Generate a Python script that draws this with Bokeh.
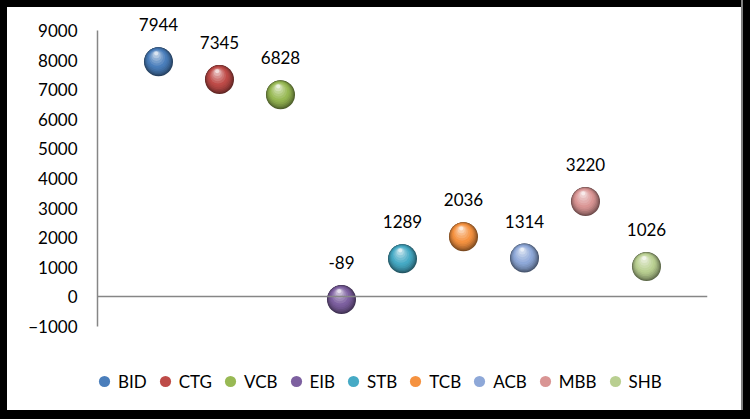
from bokeh.plotting import figure
from bokeh.models import ColumnDataSource, Legend, LegendItem, FixedTicker
from bokeh.core.properties import value
from bokeh.embed import file_html
from bokeh.resources import INLINE

# ---- data ----
banks = ["BID", "CTG", "VCB", "EIB", "STB", "TCB", "ACB", "MBB", "SHB"]
values = [7944, 7345, 6828, -89, 1289, 2036, 1314, 3220, 1026]
colors = ["#4A7EBB", "#BE4B48", "#98B954", "#7D60A0", "#46AAC5", "#F59240",
          "#8EA8D8", "#D99594", "#B9CF91"]
y_ticks = [-1000, 0, 1000, 2000, 3000, 4000, 5000, 6000, 7000, 8000, 9000]

# ---- layout ----
W, H = 734, 403
BORDER = 7  # black frame on the left / top (css border, counted in bokeh's layout size)
FL, FR, FT, FB = 90, 41, 3, 17
frame_w = W + BORDER - FL - FR
frame_h = H + BORDER - FT - FB
x_start, x_end = 0, 10
y_start, y_end = -3500, 9676
upx_x = (x_end - x_start) / frame_w
upx_y = (y_end - y_start) / frame_h

FONT = "Lato"


def mix(hex_color, t, target):
    h = hex_color.lstrip("#")
    r, g, b = int(h[0:2], 16), int(h[2:4], 16), int(h[4:6], 16)
    tr, tg, tb = target
    r = round(r + (tr - r) * t)
    g = round(g + (tg - g) * t)
    b = round(b + (tb - b) * t)
    return "#%02x%02x%02x" % (r, g, b)


xs = list(range(1, len(banks) + 1))

p = figure(width=W, height=H, x_range=(x_start, x_end), y_range=(y_start, y_end),
           output_backend="svg", toolbar_location=None,
           min_border_left=FL, min_border_right=FR, min_border_top=FT, min_border_bottom=FB)
p.styles = {
    "box-sizing": "content-box",
    "border-left": "%dpx solid #000" % BORDER,
    "border-top": "%dpx solid #000" % BORDER,
    "background-color": "#ffffff",
    "box-shadow": "0 -2px 0 2px #808080, 0 0 0 9px #000",
}
p.background_fill_color = "white"
p.border_fill_color = "white"
p.outline_line_color = None
p.grid.visible = False

# horizontal axis drawn at y = 0, no ticks or labels
xa = p.xaxis[0]
xa.fixed_location = 0
xa.bounds = (0, 10)
xa.axis_line_color = "#868686"
xa.axis_line_width = 1.5
xa.major_tick_line_color = None
xa.minor_tick_line_color = None
xa.major_label_text_font_size = "0px"
xa.major_label_text_color = None

ax = p.yaxis[0]
ax.ticker = FixedTicker(ticks=y_ticks)
ax.bounds = (y_ticks[0], y_ticks[-1])
ax.axis_line_color = "#868686"
ax.axis_line_width = 1.5
ax.major_tick_line_color = None
ax.minor_tick_line_color = None
ax.major_tick_in = 0
ax.major_tick_out = 0
ax.major_label_standoff = 20
ax.major_label_text_font = FONT
ax.major_label_text_font_size = "17px"
ax.major_label_text_color = "#000000"

# sphere layers: (size, dx px, dy px up, shade)
layers = [
    (29, 0.0, 0.0, ("d", 0.50)),
    (28, -0.2, 0.4, ("d", 0.40)),
    (26.5, -0.4, 0.9, ("d", 0.30)),
    (25, -0.6, 1.4, ("d", 0.21)),
    (23, -0.8, 2.0, ("d", 0.12)),
    (21, -1.0, 2.6, ("d", 0.05)),
    (19, -1.2, 3.2, ("b", 0.0)),
    (16, -1.5, 4.0, ("l", 0.12)),
    (13, -1.8, 4.8, ("l", 0.24)),
    (10, -2.0, 5.8, ("l", 0.38)),
    (7, -2.2, 7.0, ("l", 0.55)),
    (4, -2.3, 8.2, ("l", 0.80)),
]
legend_renderer = None
for size, dx, dy, (kind, t) in layers:
    if kind == "d":
        cols = [mix(c, t, (0, 0, 0)) for c in colors]
    elif kind == "l":
        cols = [mix(c, t, (255, 255, 255)) for c in colors]
    else:
        cols = list(colors)
    src = ColumnDataSource(dict(
        x=[x + dx * upx_x for x in xs],
        y=[v + dy * upx_y for v in values],
        c=cols))
    r = p.scatter("x", "y", source=src, size=size, fill_color="c", line_color=None)
    if kind == "b":
        legend_renderer = r

# value labels
lab = ColumnDataSource(dict(x=xs, y=values, t=[str(v) for v in values]))
p.text("x", "y", text="t", source=lab, y_offset=-37, text_align="center",
       text_baseline="middle", text_font=value(FONT), text_font_size="17px",
       text_color="#000000")

items = [LegendItem(label=b, renderers=[legend_renderer], index=i) for i, b in enumerate(banks)]
legend = Legend(items=items, orientation="horizontal", location=(-7, 5),
                glyph_width=28, glyph_height=28, label_standoff=0, spacing=4,
                padding=0, margin=0, border_line_color=None, background_fill_alpha=0,
                label_text_font=FONT, label_text_font_size="17px", label_text_color="#000000")
p.add_layout(legend)

open("out.html", "w").write(file_html(p, INLINE))
